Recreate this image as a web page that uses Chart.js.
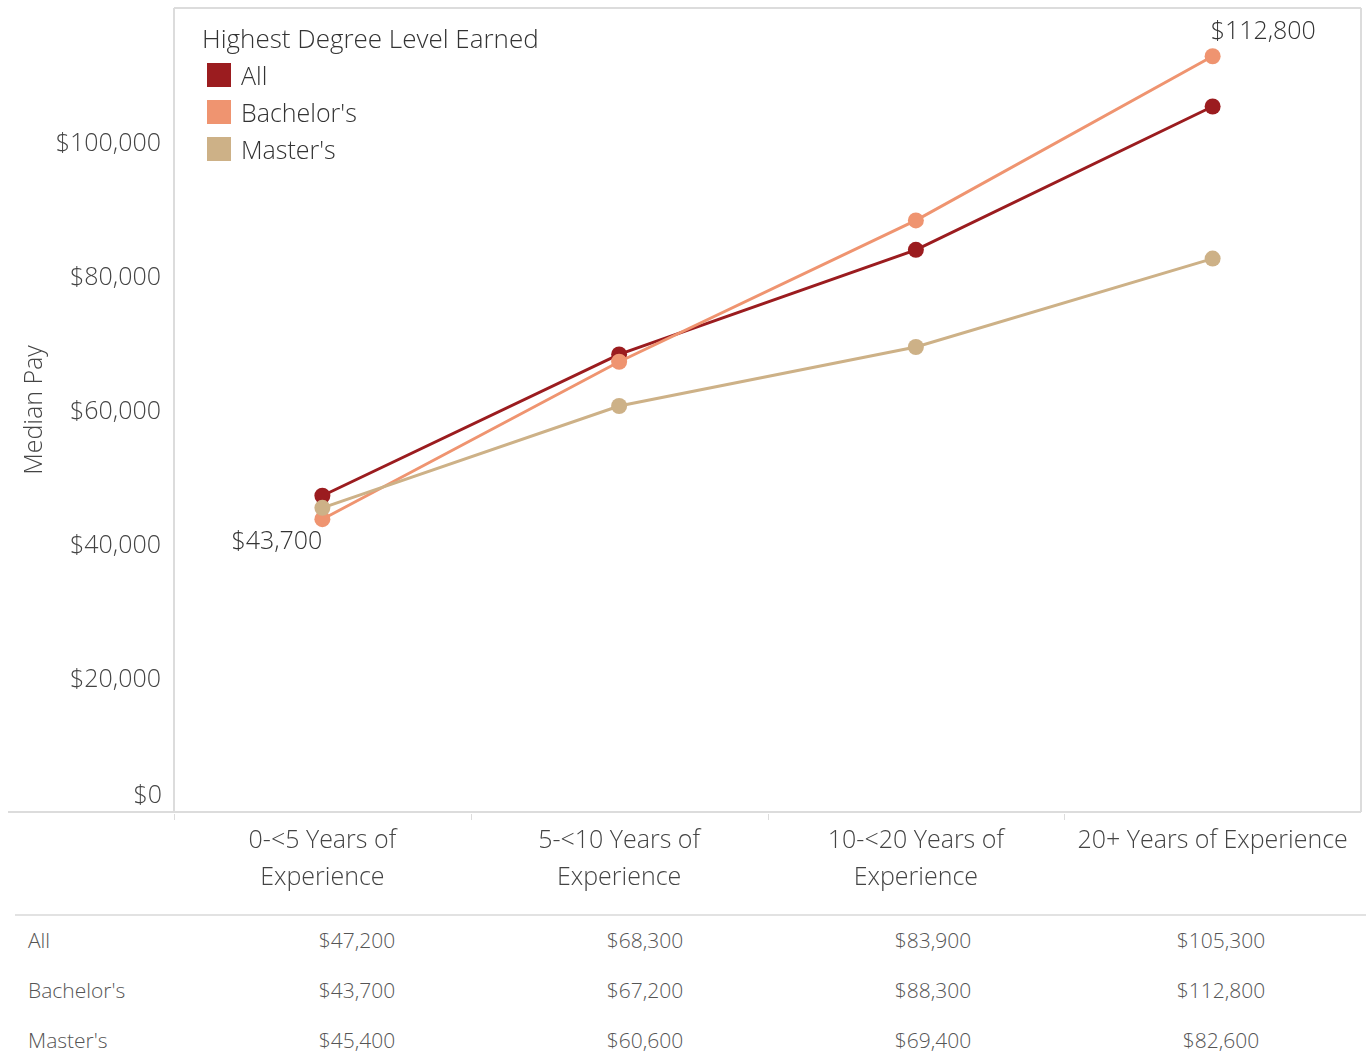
<!DOCTYPE html>
<html>
<head>
<meta charset="utf-8">
<script src="https://cdn.jsdelivr.net/npm/chart.js@4"></script>
<style>
  html, body { margin: 0; padding: 0; background: #fff; }
  body { width: 1371px; height: 1061px; position: relative; overflow: hidden;
         font-family: "Open Sans", "Noto Sans", sans-serif; font-weight: 300; color: #444; }
  #wrap { position: absolute; left: 0; top: 0; width: 1371px; height: 905px; }
  #legend { position: absolute; left: 202px; top: 20px; font-size: 25px; color: #333; }
  #legend .title { font-size: 26px; height: 36px; }
  #legend .item { display: flex; align-items: center; height: 37px; margin-left: 5px; }
  #legend .sw { width: 24px; height: 24px; margin-right: 10px; }
  #tbl { position: absolute; left: 0; top: 916px; width: 1371px; font-size: 21px; color: #555; }
  #tbl .row { position: relative; height: 50px; }
  #tbl .row span { position: absolute; top: 10px; white-space: nowrap; }
  #sep { position: absolute; left: 15px; top: 914px; width: 1351px; height: 2px; background: #e2e2e2; }
</style>
</head>
<body>
<div id="wrap"><canvas id="chart"></canvas></div>
<div id="legend"></div>
<div id="sep"></div>
<div id="tbl"></div>
<script>
const categories = [
  ['0-<5 Years of', 'Experience'],
  ['5-<10 Years of', 'Experience'],
  ['10-<20 Years of', 'Experience'],
  '20+ Years of Experience'
];
const seriesNames = ['All', "Bachelor's", "Master's"];
const allPay = [47200, 68300, 83900, 105300];
const bachelorPay = [43700, 67200, 88300, 112800];
const masterPay = [45400, 60600, 69400, 82600];
const yTicks = [0, 20000, 40000, 60000, 80000, 100000];
const colors = ['#9b1c1f', '#ef9470', '#cdb187'];

const seriesValues = [allPay, bachelorPay, masterPay];
const fmt = v => '$' + v.toLocaleString('en-US');
const FONT = '"Open Sans", "Noto Sans", sans-serif';

// legend
const lg = document.getElementById('legend');
lg.innerHTML = '<div class="title">Highest Degree Level Earned</div>' +
  seriesNames.map((n, i) => '<div class="item"><div class="sw" style="background:' + colors[i] + '"></div>' + n + '</div>').join('');

// table under the chart
const tbl = document.getElementById('tbl');
const colCenters = [357, 645, 933, 1221];
seriesNames.forEach((n, i) => {
  const row = document.createElement('div');
  row.className = 'row';
  let html = '<span style="left:28px">' + n + '</span>';
  seriesValues[i].forEach((v, j) => {
    html += '<span style="left:' + colCenters[j] + 'px;transform:translateX(-50%)">' + fmt(v) + '</span>';
  });
  row.innerHTML = html;
  tbl.appendChild(row);
});

const framePlugin = {
  id: 'frame',
  afterDraw(chart) {
    const ctx = chart.ctx;
    const a = chart.chartArea;
    ctx.save();
    ctx.strokeStyle = '#dcdcdc';
    ctx.lineWidth = 2;
    ctx.beginPath();
    ctx.moveTo(a.left, a.top); ctx.lineTo(a.right, a.top);
    ctx.moveTo(a.left, a.top); ctx.lineTo(a.left, a.bottom);
    ctx.moveTo(a.right, a.top); ctx.lineTo(a.right, a.bottom);
    ctx.moveTo(8, a.bottom); ctx.lineTo(a.right, a.bottom);
    ctx.stroke();
    // tick marks between categories
    const xs = chart.scales.x;
    ctx.lineWidth = 1;
    for (let i = 0; i < categories.length; i++) {
      const x = Math.round(xs.getPixelForValue(i) - (xs.getPixelForValue(1) - xs.getPixelForValue(0)) / 2) + 0.5;
      ctx.beginPath(); ctx.moveTo(x, a.bottom + 2); ctx.lineTo(x, a.bottom + 8); ctx.stroke();
    }
    const ys = chart.scales.y;
    ctx.fillStyle = '#444';
    ctx.font = '300 25px ' + FONT;
    ctx.textBaseline = 'middle';
    // zero label sits above the baseline
    ctx.textAlign = 'right';
    ctx.fillText(fmt(yTicks[0]), a.left - 12, ys.getPixelForValue(yTicks[0]) - 16);
    // value labels for the Bachelor's extremes
    ctx.fillStyle = '#333';
    const first = bachelorPay[0], last = bachelorPay[bachelorPay.length - 1];
    ctx.fillText(fmt(first), xs.getPixelForValue(0), ys.getPixelForValue(first) + 23);
    ctx.textAlign = 'left';
    ctx.fillText(fmt(last), xs.getPixelForValue(3) - 2, ys.getPixelForValue(last) - 24);
    ctx.restore();
  }
};

new Chart(document.getElementById('chart'), {
  type: 'line',
  data: {
    labels: categories,
    datasets: seriesNames.map((n, i) => ({
      label: n,
      data: seriesValues[i],
      borderColor: colors[i],
      backgroundColor: colors[i],
      borderWidth: 3,
      pointRadius: 8,
      pointHoverRadius: 8,
      pointBorderWidth: 0,
      tension: 0
    })).reverse()
  },
  options: {
    responsive: true,
    maintainAspectRatio: false,
    animation: false,
    layout: { padding: { top: 8, right: 10, left: 0, bottom: 0 } },
    plugins: { legend: { display: false }, tooltip: { enabled: false } },
    scales: {
      x: {
        offset: true,
        grid: { display: false },
        border: { display: false },
        ticks: {
          color: '#444', padding: 3, maxRotation: 0, autoSkip: false,
          font: { family: FONT, size: 25, weight: 300, lineHeight: 1.45 }
        },
        afterFit(s) { s.height = 93; s.paddingLeft = 0; s.paddingRight = 0; }
      },
      y: {
        min: 0, max: 120000,
        afterBuildTicks(s) { s.ticks = yTicks.map(v => ({ value: v })); },
        grid: { display: false },
        border: { display: false },
        title: { display: true, text: 'Median Pay', color: '#444', font: { family: FONT, size: 25, weight: 300 }, padding: { top: 20, bottom: 0 } },
        ticks: {
          color: '#444', padding: 5, labelOffset: 2,
          font: { family: FONT, size: 25, weight: 300 },
          callback: v => v === 0 ? '' : fmt(v)
        },
        afterFit(s) { s.width = 174; s.paddingTop = 0; s.paddingBottom = 0; }
      }
    }
  },
  plugins: [framePlugin]
});
</script>
</body>
</html>
